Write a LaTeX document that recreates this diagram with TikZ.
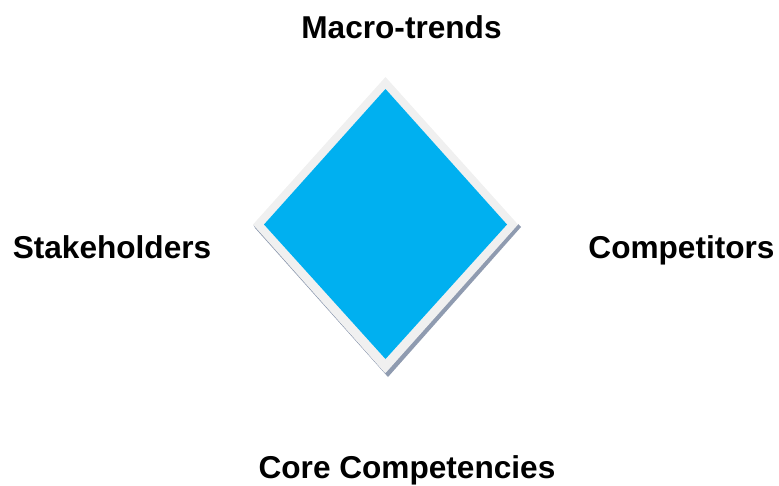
\documentclass[tikz,border=0pt]{standalone}
\usepackage{fontspec}
\setmainfont{Liberation Sans}
\begin{document}
\begin{tikzpicture}[x=1pt,y=-1pt,
  lbl/.style={font=\fontsize{31.6}{38}\selectfont\bfseries, anchor=base, inner sep=0pt}]
\useasboundingbox (0,0) rectangle (779,485);
\definecolor{dblue}{HTML}{00B0F0}
\definecolor{dframe}{HTML}{F0F0F0}
\definecolor{dshadow}{HTML}{8F9BB0}
% shadow
\fill[dshadow] (255,228) -- (388,377) -- (521,227) -- (518,224) -- (385,373) -- (253,224) -- cycle;
% frame
\fill[dframe] (385.5,77) -- (518,224.5) -- (385.5,373) -- (253,224.5) -- cycle;
% inner
\fill[dblue] (385.5,89) -- (507,224.5) -- (385.5,359) -- (264,224.5) -- cycle;
\node[lbl] (top) at (401.5,38) {Macro-trends};
\node[lbl] (left) at (112,258) {Stakeholders};
\node[lbl] (right) at (681.5,258) {Competitors};
\node[lbl] (bottom) at (407,478) {Core Competencies};
\end{tikzpicture}
\end{document}
